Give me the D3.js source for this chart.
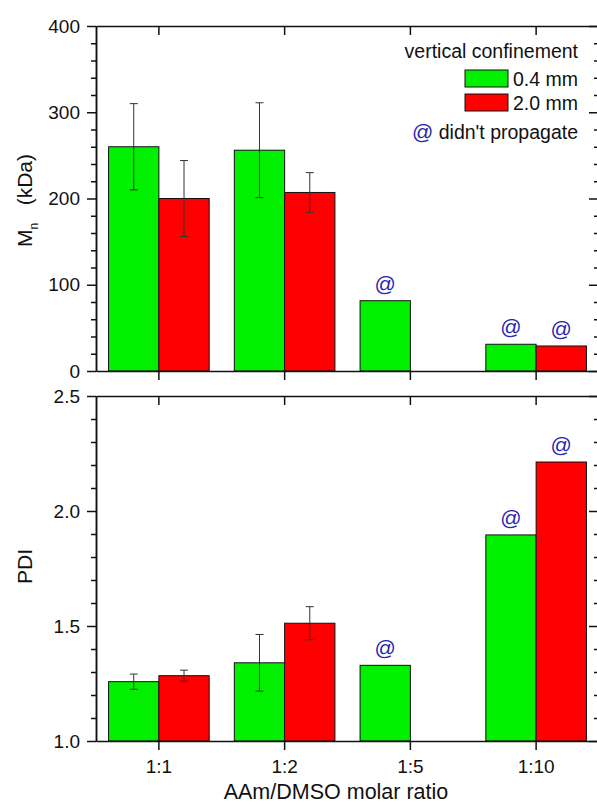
<!DOCTYPE html>
<html>
<head>
<meta charset="utf-8">
<script src="https://cdn.jsdelivr.net/npm/d3@7"></script>
<style>
  html, body { margin: 0; padding: 0; background: #fff; }
  svg { display: block; font-family: "Liberation Sans", Arial, sans-serif; }
</style>
</head>
<body>
<svg id="chart" width="597" height="804"></svg>
<script>
// Molar ratio categories and the two confinement series
const categories = ["1:1", "1:2", "1:5", "1:10"];
const seriesNames = ["0.4 mm", "2.0 mm"];
const seriesColors = ["#00f000", "#ff0000"];

// Number-average molecular weight, kDa (null = no sample)
const mn04 = [260, 256, 81.5, 31];
const mn20 = [200, 207, null, 29];
const mnErr04 = [50, 55, null, null];
const mnErr20 = [44, 23, null, null];

// Polydispersity index
const pdi04 = [1.258, 1.34, 1.329, 1.896];
const pdi20 = [1.284, 1.512, null, 2.213];
const pdiErr04 = [0.033, 0.123, null, null];
const pdiErr20 = [0.024, 0.072, null, null];

// Samples whose front didn't propagate
const noProp04 = [false, false, true, true];
const noProp20 = [false, false, false, true];

const mnTicks = [0, 100, 200, 300, 400];
const pdiTicks = [1.0, 1.5, 2.0, 2.5];

const svg = d3.select("#chart");
const left = 96, right = 599;
const topPanel = { y0: 26, y1: 371 };
const botPanel = { y0: 396, y1: 741 };
const ink = "#111";
const markColor = "#2525b0";

const x0 = d3.scaleBand().domain(categories).range([left, right])
  .paddingInner(0.2).paddingOuter(0.1);
const x1 = d3.scaleBand().domain(seriesNames).range([0, x0.bandwidth()]);

const yMn = d3.scaleLinear().domain([0, 400]).range([topPanel.y1, topPanel.y0]);
const yPdi = d3.scaleLinear().domain([1.0, 2.5]).range([botPanel.y1, botPanel.y0]);

function rows(vals, errs, flags) {
  return categories.map((c, i) => seriesNames.map((s, j) => ({
    cat: c, series: s, color: seriesColors[j],
    value: vals[j][i], err: errs[j][i], flag: flags[j][i]
  }))).flat().filter(d => d.value != null);
}

function drawPanel(y, panel, data, majorTicks, minorStep, fmt, showXLabels) {
  const g = svg.append("g");

  // bars
  g.selectAll("rect.bar").data(data).join("rect")
    .attr("class", "bar")
    .attr("x", d => x0(d.cat) + x1(d.series))
    .attr("width", x1.bandwidth())
    .attr("y", d => y(d.value))
    .attr("height", d => y(y.domain()[0]) - y(d.value))
    .attr("fill", d => d.color)
    .attr("stroke", ink)
    .attr("stroke-width", 1);

  // error bars
  const eb = data.filter(d => d.err != null);
  const cx = d => x0(d.cat) + x1(d.series) + x1.bandwidth() / 2;
  const ebG = g.append("g").attr("stroke", "#333").attr("stroke-width", 1);
  ebG.selectAll("line.v").data(eb).join("line")
    .attr("x1", cx).attr("x2", cx)
    .attr("y1", d => y(d.value + d.err)).attr("y2", d => y(d.value - d.err));
  ["+", "-"].forEach(sign => {
    ebG.selectAll("line.c" + (sign === "+" ? "p" : "m")).data(eb).join("line")
      .attr("x1", d => cx(d) - 4).attr("x2", d => cx(d) + 4)
      .attr("y1", d => y(sign === "+" ? d.value + d.err : d.value - d.err))
      .attr("y2", d => y(sign === "+" ? d.value + d.err : d.value - d.err));
  });

  // "@" markers
  g.selectAll("text.at").data(data.filter(d => d.flag)).join("text")
    .attr("class", "at")
    .attr("x", cx)
    .attr("y", d => y(d.value) - 10)
    .attr("text-anchor", "middle")
    .attr("fill", markColor)
    .attr("font-size", 21)
    .text("@");

  const [dMin, dMax] = y.domain();
  const minor = d3.range(dMin, dMax + 1e-9, minorStep)
    .filter(v => !majorTicks.some(t => Math.abs(t - v) < 1e-9));

  const axisStyle = sel => {
    sel.select(".domain").attr("stroke", ink).attr("stroke-width", 1.5);
    sel.selectAll(".tick line").attr("stroke", ink).attr("stroke-width", 1.5);
    sel.selectAll("text").attr("font-size", 19).attr("fill", ink)
      .attr("font-family", "'Liberation Sans', Arial, sans-serif");
  };

  // left axis: outward ticks with labels
  svg.append("g").attr("transform", `translate(${left},0)`)
    .call(d3.axisLeft(y).tickValues(majorTicks).tickFormat(fmt)
      .tickSize(9).tickPadding(7).tickSizeOuter(0))
    .call(axisStyle);
  svg.append("g").attr("transform", `translate(${left},0)`)
    .call(d3.axisLeft(y).tickValues(minor).tickFormat("").tickSize(5).tickSizeOuter(0))
    .call(axisStyle);

  // right axis: inward ticks, no labels
  svg.append("g").attr("transform", `translate(${right},0)`)
    .call(d3.axisLeft(y).tickValues(majorTicks).tickFormat("").tickSize(10).tickSizeOuter(0))
    .call(axisStyle);
  svg.append("g").attr("transform", `translate(${right},0)`)
    .call(d3.axisLeft(y).tickValues(minor).tickFormat("").tickSize(5).tickSizeOuter(0))
    .call(axisStyle);

  // top axis: inward ticks
  svg.append("g").attr("transform", `translate(0,${panel.y0})`)
    .call(d3.axisBottom(x0).tickFormat("").tickSize(9).tickSizeOuter(0))
    .call(axisStyle);

  // bottom axis: outward ticks
  svg.append("g").attr("transform", `translate(0,${panel.y1})`)
    .call(d3.axisBottom(x0).tickFormat(showXLabels ? null : "")
      .tickSize(9).tickPadding(10).tickSizeOuter(0))
    .call(axisStyle);
}

drawPanel(yMn, topPanel,
  rows([mn04, mn20], [mnErr04, mnErr20], [noProp04, noProp20]),
  mnTicks, 20, d3.format("d"), false);
drawPanel(yPdi, botPanel,
  rows([pdi04, pdi20], [pdiErr04, pdiErr20], [noProp04, noProp20]),
  pdiTicks, 0.1, d3.format(".1f"), true);

// axis titles
const yt1 = svg.append("text")
  .attr("transform", `translate(32,${(topPanel.y0 + topPanel.y1) / 2 + 2}) rotate(-90)`)
  .attr("text-anchor", "middle").attr("font-size", 21).attr("fill", ink);
yt1.append("tspan").text("M");
yt1.append("tspan").attr("font-size", 12).attr("dy", 6).text("n");
yt1.append("tspan").attr("dy", -6).text("\u00a0\u00a0\u00a0(kDa)");

svg.append("text")
  .attr("transform", `translate(32,${(botPanel.y0 + botPanel.y1) / 2 - 2}) rotate(-90)`)
  .attr("text-anchor", "middle").attr("font-size", 21).attr("fill", ink)
  .text("PDI");

svg.append("text")
  .attr("x", 336).attr("y", 799)
  .attr("text-anchor", "middle").attr("font-size", 21.5).attr("fill", ink)
  .text("AAm/DMSO molar ratio");

// legend
const lg = svg.append("g").attr("font-size", 19.5).attr("fill", ink);
lg.append("text").attr("x", 578).attr("y", 58).attr("text-anchor", "end")
  .text("vertical confinement");
seriesNames.forEach((s, j) => {
  const yy = 70 + j * 24;
  lg.append("rect").attr("x", 465).attr("y", yy).attr("width", 43).attr("height", 17)
    .attr("fill", seriesColors[j]).attr("stroke", ink).attr("stroke-width", 1);
  lg.append("text").attr("x", 578).attr("y", yy + 16).attr("text-anchor", "end").text(s);
});
const lp = lg.append("text").attr("x", 578).attr("y", 139).attr("text-anchor", "end");
lp.append("tspan").attr("fill", markColor).attr("font-size", 21).text("@");
lp.append("tspan").text(" didn't propagate");
</script>
</body>
</html>
